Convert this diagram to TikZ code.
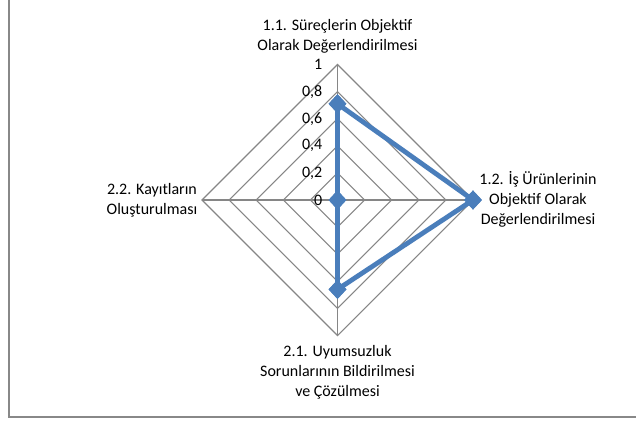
\documentclass[tikz,border=0pt]{standalone}
\usepackage{fontspec}
\setmainfont{Carlito}
\usetikzlibrary{shapes.geometric}
\definecolor{gridgray}{HTML}{868686}
\definecolor{frame}{HTML}{888888}
\definecolor{serblue}{HTML}{4A7EBB}
\begin{document}
\begin{tikzpicture}[x=0.75pt,y=-0.75pt,
  font=\fontsize{12}{15}\selectfont,
  gridline/.style={draw=gridgray, line width=0.8pt},
  series/.style={draw=serblue, line width=3.6pt, line join=round},
  mk/.style={diamond, fill=serblue, draw=none, inner sep=0pt, minimum width=13.5pt, minimum height=14.5pt},
  lab/.style={align=center, inner sep=0pt, text=black},
  tick/.style={anchor=east, inner sep=0pt, text=black}]
\useasboundingbox (0,0) rectangle (636,421);
\fill[white] (0,0) rectangle (636,421);
% frame (only left and bottom edges visible)
\draw[draw=frame, line width=1.2pt] (9,-5) -- (9,417) -- (645,417);
% grid
\coordinate (O) at (337.5,200);
\foreach \k in {1,...,5}{
  \pgfmathsetmacro\r{27.1*\k}
  \draw[gridline] (337.5,{200-\r}) -- ({337.5+\r},200) -- (337.5,{200+\r}) -- ({337.5-\r},200) -- cycle;
}
\coordinate (vt) at (337.5,64.5);
\coordinate (vr) at (473,200);
\coordinate (vb) at (337.5,335.5);
\coordinate (vl) at (202,200);
\draw[gridline] (O) -- (vt);
\draw[gridline] (O) -- (vr);
\draw[gridline] (O) -- (vb);
\draw[gridline] (O) -- (vl);
% tick labels
\node[tick] (t0) at (322.5,200) {0};
\node[tick] (t2) at (322.5,172.9) {0,2};
\node[tick] (t4) at (322.5,145.8) {0,4};
\node[tick] (t6) at (322.5,118.7) {0,6};
\node[tick] (t8) at (322.5,91.6) {0,8};
\node[tick] (t10) at (322.5,64.5) {1};
% category labels
\node[lab] (ltop) at (337.5,36.5) {1.1. Süreçlerin Objektif\\Olarak Değerlendirilmesi};
\node[lab] (lright) at (538,199) {1.2. İş Ürünlerinin\\Objektif Olarak\\Değerlendirilmesi};
\node[lab] (lbottom) at (337.5,372) {2.1. Uyumsuzluk\\Sorunlarının Bildirilmesi\\ve Çözülmesi};
\node[lab] (lleft) at (152,200) {2.2. Kayıtların\\Oluşturulması};
% data series
\node[mk] (p1) at (337.5,103.8) {};
\node[mk] (p2) at (473,200) {};
\node[mk] (p3) at (337.5,289.4) {};
\node[mk] (p4) at (337.5,200) {};
\draw[series] (p1.center) -- (p2.center) -- (p3.center) -- (p4.center) -- cycle;
\node[mk] at (p1) {};
\node[mk] at (p2) {};
\node[mk] at (p3) {};
\node[mk] at (p4) {};
\end{tikzpicture}
\end{document}
